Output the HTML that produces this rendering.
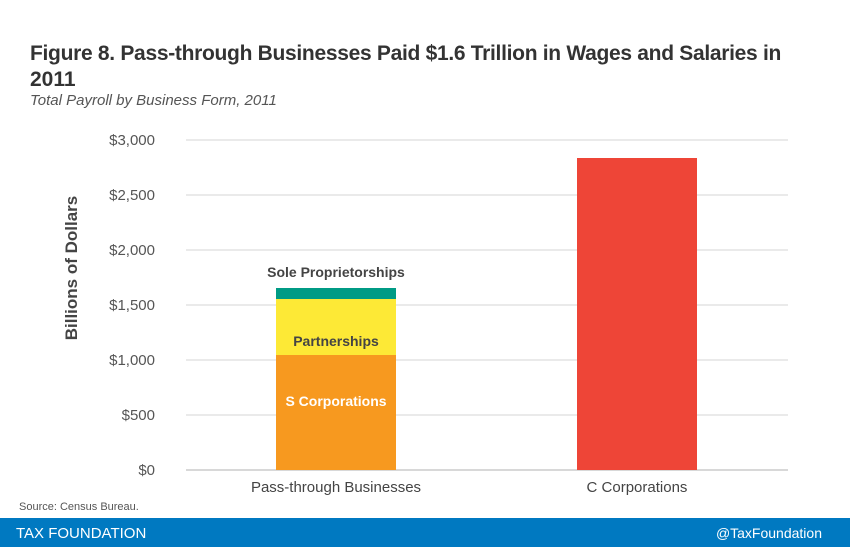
<!DOCTYPE html>
<html><head><meta charset="utf-8"><style>
body{margin:0;width:850px;height:547px;overflow:hidden;background:#fff;font-family:"Liberation Sans",sans-serif}
</style></head><body>
<svg width="850" height="547" xmlns="http://www.w3.org/2000/svg" font-family="Liberation Sans, sans-serif">
<text x="30" y="60" font-size="21" font-weight="bold" fill="#333" letter-spacing="-0.3">Figure 8. Pass-through Businesses Paid $1.6 Trillion in Wages and Salaries in</text>
<text x="30" y="86" font-size="21" font-weight="bold" fill="#333">2011</text>
<text x="30" y="105" font-size="15" font-style="italic" fill="#555">Total Payroll by Business Form, 2011</text>
<g stroke="#e3e3e3" stroke-width="1.5">
<line x1="186" x2="788" y1="140" y2="140"/><line x1="186" x2="788" y1="195" y2="195"/>
<line x1="186" x2="788" y1="250" y2="250"/><line x1="186" x2="788" y1="305" y2="305"/>
<line x1="186" x2="788" y1="360" y2="360"/><line x1="186" x2="788" y1="415" y2="415"/>
</g>
<line x1="186" x2="788" y1="470" y2="470" stroke="#ccc" stroke-width="1.5"/>
<g font-size="15" fill="#555" text-anchor="end">
<text x="155" y="145">$3,000</text><text x="155" y="200">$2,500</text><text x="155" y="255">$2,000</text>
<text x="155" y="310">$1,500</text><text x="155" y="365">$1,000</text><text x="155" y="420">$500</text><text x="155" y="475">$0</text>
</g>
<text transform="translate(77,268) rotate(-90)" font-size="17" font-weight="bold" fill="#444" text-anchor="middle">Billions of Dollars</text>
<rect x="276" y="355" width="120" height="115" fill="#f7991f"/>
<rect x="276" y="299" width="120" height="56" fill="#fde936"/>
<rect x="276" y="288" width="120" height="11" fill="#009b85"/>
<rect x="577" y="158" width="120" height="312" fill="#ee4537"/>
<text x="336" y="277" font-size="14" font-weight="bold" fill="#444" text-anchor="middle">Sole Proprietorships</text>
<text x="336" y="346" font-size="14" font-weight="bold" fill="#444" text-anchor="middle">Partnerships</text>
<text x="336" y="406" font-size="14" font-weight="bold" fill="#fff" text-anchor="middle">S Corporations</text>
<text x="336" y="492" font-size="15" fill="#444" text-anchor="middle">Pass-through Businesses</text>
<text x="637" y="492" font-size="15" fill="#444" text-anchor="middle">C Corporations</text>
<text x="19" y="510" font-size="11" fill="#555">Source: Census Bureau.</text>
<rect x="0" y="518" width="850" height="29" fill="#0079c1"/>
<text x="16" y="538" font-size="15" fill="#fff">TAX FOUNDATION</text>
<text x="822" y="538" font-size="14" fill="#fff" text-anchor="end">@TaxFoundation</text>
</svg>
</body></html>
